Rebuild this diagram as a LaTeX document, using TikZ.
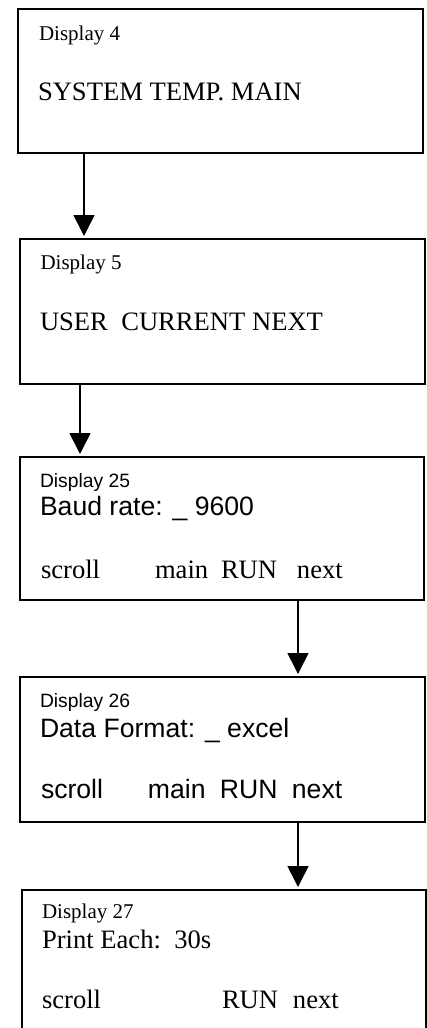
\documentclass[tikz,border=0pt]{standalone}
\usepackage{fontspec}
\setmainfont{Liberation Serif}
\newfontfamily\arialfont{Liberation Sans}
\usetikzlibrary{arrows.meta}
% font sizes used in the panels
\newcommand\bigtext{\fontsize{26.6}{30}\selectfont}
\newcommand\smallserif{\fontsize{21}{24}\selectfont}
\newcommand\smallsans{\arialfont\fontsize{19.3}{22}\selectfont}
\begin{document}
\begin{tikzpicture}[x=1pt,y=-1pt,
  panel/.style={draw, line width=1.8pt, outer sep=0pt, inner sep=0pt, anchor=north west},
  txt/.style={anchor=base west, inner sep=0pt, outer sep=0pt},
  flow/.style={line width=1.6pt, -{Triangle[length=21pt,width=21pt]}, shorten >=3pt}]
\useasboundingbox (0,0) rectangle (427,1028);
\clip (0,0) rectangle (427,1028);

% display panels
\node[panel, minimum width=405pt, minimum height=144pt] (d4)  at (18,9)   {};
\node[panel, minimum width=405pt, minimum height=145pt] (d5)  at (20,239) {};
\node[panel, minimum width=404pt, minimum height=143pt] (d25) at (20,457) {};
\node[panel, minimum width=405pt, minimum height=145pt] (d26) at (20,677) {};
\node[panel, minimum width=404pt, minimum height=170pt] (d27) at (22,890) {};

% x positions of the connectors
\coordinate (xa) at (84,0);
\coordinate (xb) at (80,0);
\coordinate (xc) at (298,0);

\draw[flow] (d4.south -| xa)  -- (d5.north -| xa);
\draw[flow] (d5.south -| xb)  -- (d25.north -| xb);
\draw[flow] (d25.south -| xc) -- (d26.north -| xc);
\draw[flow] (d26.south -| xc) -- (d27.north -| xc);

% Display 4
\node[txt] (t4a) at (39,40)  {\smallserif Display 4};
\node[txt] (t4b) at (38,100) {\bigtext SYSTEM TEMP. MAIN};

% Display 5
\node[txt] (t5a) at (40.5,269) {\smallserif Display 5};
\node[txt] (t5b) at (40,330)   {\bigtext USER\ \ CURRENT NEXT};

% Display 25
\node[txt] (t25a) at (40,487) {\smallsans Display 25};
\node[txt] (t25b) at (40,515) {\arialfont\bigtext Baud rate: \_ 9600};
\node[txt] (t25c) at (41,578) {\bigtext\makebox[114pt][l]{scroll}\makebox[66pt][l]{main}\makebox[76pt][l]{RUN}next};

% Display 26
\node[txt] (t26a) at (40,707) {\smallsans Display 26};
\node[txt] (t26b) at (40,737) {\arialfont\bigtext Data Format: \_ excel};
\node[txt] (t26c) at (41,798) {\arialfont\bigtext\makebox[107pt][l]{scroll}\makebox[72pt][l]{main}\makebox[72pt][l]{RUN}next};

% Display 27
\node[txt] (t27a) at (42,918)  {\smallserif Display 27};
\node[txt] (t27b) at (42,948)  {\bigtext Print Each:\ \ 30s};
\node[txt] (t27c) at (42,1008) {\bigtext\makebox[180pt][l]{scroll}\makebox[71pt][l]{RUN}next};
\end{tikzpicture}
\end{document}
